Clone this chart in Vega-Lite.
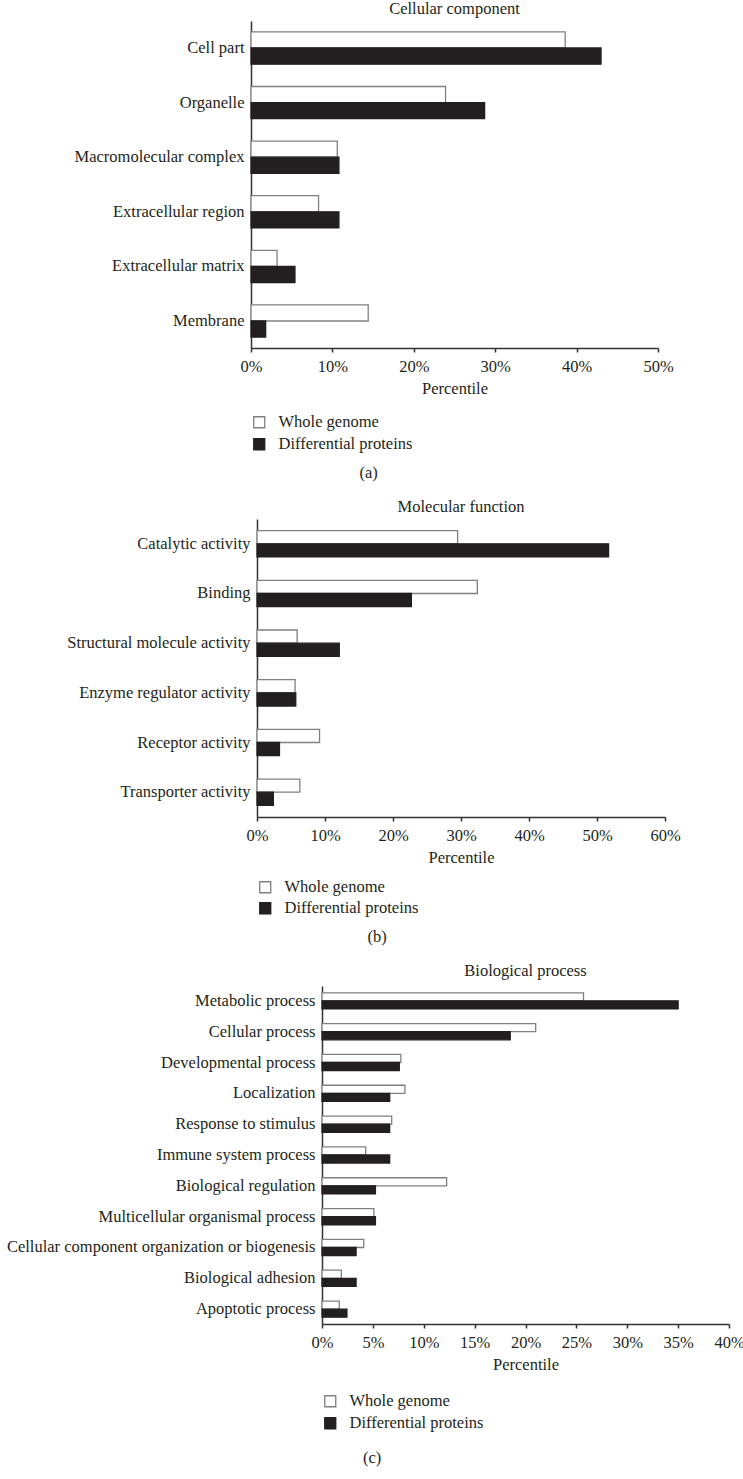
{
  "$schema": "https://vega.github.io/schema/vega-lite/v6.json",
  "padding": {"left": 0, "top": 0, "right": 4, "bottom": 0},
  "background": "white",
  "datasets": {
    "blank": [{"k": 1}],
    "cc": [
      {"cat": "Cell part", "series": "Whole genome", "value": 0.386},
      {"cat": "Cell part", "series": "Differential proteins", "value": 0.43},
      {"cat": "Organelle", "series": "Whole genome", "value": 0.239},
      {"cat": "Organelle", "series": "Differential proteins", "value": 0.287},
      {"cat": "Macromolecular complex", "series": "Whole genome", "value": 0.106},
      {"cat": "Macromolecular complex", "series": "Differential proteins", "value": 0.108},
      {"cat": "Extracellular region", "series": "Whole genome", "value": 0.083},
      {"cat": "Extracellular region", "series": "Differential proteins", "value": 0.108},
      {"cat": "Extracellular matrix", "series": "Whole genome", "value": 0.032},
      {"cat": "Extracellular matrix", "series": "Differential proteins", "value": 0.054},
      {"cat": "Membrane", "series": "Whole genome", "value": 0.144},
      {"cat": "Membrane", "series": "Differential proteins", "value": 0.018}
    ],
    "mf": [
      {"cat": "Catalytic activity", "series": "Whole genome", "value": 0.295},
      {"cat": "Catalytic activity", "series": "Differential proteins", "value": 0.517},
      {"cat": "Binding", "series": "Whole genome", "value": 0.324},
      {"cat": "Binding", "series": "Differential proteins", "value": 0.227},
      {"cat": "Structural molecule activity", "series": "Whole genome", "value": 0.059},
      {"cat": "Structural molecule activity", "series": "Differential proteins", "value": 0.121},
      {"cat": "Enzyme regulator activity", "series": "Whole genome", "value": 0.056},
      {"cat": "Enzyme regulator activity", "series": "Differential proteins", "value": 0.057},
      {"cat": "Receptor activity", "series": "Whole genome", "value": 0.092},
      {"cat": "Receptor activity", "series": "Differential proteins", "value": 0.033},
      {"cat": "Transporter activity", "series": "Whole genome", "value": 0.063},
      {"cat": "Transporter activity", "series": "Differential proteins", "value": 0.024}
    ],
    "bp": [
      {"cat": "Metabolic process", "series": "Whole genome", "value": 0.257},
      {"cat": "Metabolic process", "series": "Differential proteins", "value": 0.350},
      {"cat": "Cellular process", "series": "Whole genome", "value": 0.210},
      {"cat": "Cellular process", "series": "Differential proteins", "value": 0.185},
      {"cat": "Developmental process", "series": "Whole genome", "value": 0.0775},
      {"cat": "Developmental process", "series": "Differential proteins", "value": 0.076},
      {"cat": "Localization", "series": "Whole genome", "value": 0.0815},
      {"cat": "Localization", "series": "Differential proteins", "value": 0.0665},
      {"cat": "Response to stimulus", "series": "Whole genome", "value": 0.0685},
      {"cat": "Response to stimulus", "series": "Differential proteins", "value": 0.0665},
      {"cat": "Immune system process", "series": "Whole genome", "value": 0.043},
      {"cat": "Immune system process", "series": "Differential proteins", "value": 0.0665},
      {"cat": "Biological regulation", "series": "Whole genome", "value": 0.1225},
      {"cat": "Biological regulation", "series": "Differential proteins", "value": 0.0525},
      {"cat": "Multicellular organismal process", "series": "Whole genome", "value": 0.051},
      {"cat": "Multicellular organismal process", "series": "Differential proteins", "value": 0.0525},
      {"cat": "Cellular component organization or biogenesis", "series": "Whole genome", "value": 0.041},
      {"cat": "Cellular component organization or biogenesis", "series": "Differential proteins", "value": 0.0335},
      {"cat": "Biological adhesion", "series": "Whole genome", "value": 0.019},
      {"cat": "Biological adhesion", "series": "Differential proteins", "value": 0.0335},
      {"cat": "Apoptotic process", "series": "Whole genome", "value": 0.017},
      {"cat": "Apoptotic process", "series": "Differential proteins", "value": 0.0245}
    ]
  },
  "spacing": 16,
  "vconcat": [
    {
      "title": {"text": "(a)", "orient": "bottom", "anchor": "middle", "dx": 32, "offset": 12},
      "spacing": 0,
      "resolve": {"scale": {"fill": "independent", "stroke": "independent"}, "legend": {"fill": "independent", "stroke": "independent"}},
      "hconcat": [
        {"width": 1, "height": 1, "data": {"name": "blank"}, "mark": {"type": "text"}, "encoding": {"text": {"value": ""}}},
        {
          "width": 407,
          "height": 327,
          "title": {"text": "Cellular component"},
          "data": {"name": "cc"},
          "mark": {"type": "bar", "strokeWidth": 1.3},
          "encoding": {
            "y": {"field": "cat", "type": "nominal", "sort": null,
                  "scale": {"paddingInner": 0.41, "paddingOuter": 0.2},
                  "axis": {"title": null, "ticks": false, "labelPadding": 7, "labelLimit": 400, "minExtent": 250, "maxExtent": 250}},
            "yOffset": {"field": "series", "type": "nominal", "sort": ["Whole genome", "Differential proteins"]},
            "x": {"field": "value", "type": "quantitative",
                  "scale": {"domain": [0, 0.5]},
                  "axis": {"title": "Percentile", "format": ".0%", "values": [0, 0.1, 0.2, 0.3, 0.4, 0.5]}},
            "fill": {"field": "series", "type": "nominal", "sort": ["Whole genome", "Differential proteins"],
                     "scale": {"domain": ["Whole genome", "Differential proteins"], "range": ["#ffffff", "#231f20"]},
                     "legend": {"title": null, "orient": "bottom", "direction": "vertical"}},
            "stroke": {"field": "series", "type": "nominal", "sort": ["Whole genome", "Differential proteins"],
                       "scale": {"domain": ["Whole genome", "Differential proteins"], "range": ["#808080", "#231f20"]},
                       "legend": {"title": null, "orient": "bottom", "direction": "vertical"}}
          }
        }
      ]
    },
    {
      "title": {"text": "(b)", "orient": "bottom", "anchor": "middle", "dx": 37, "offset": 12},
      "spacing": 0,
      "resolve": {"scale": {"fill": "independent", "stroke": "independent"}, "legend": {"fill": "independent", "stroke": "independent"}},
      "hconcat": [
        {"width": 1, "height": 1, "data": {"name": "blank"}, "mark": {"type": "text"}, "encoding": {"text": {"value": ""}}},
        {
          "width": 408,
          "height": 298,
          "title": {"text": "Molecular function"},
          "data": {"name": "mf"},
          "mark": {"type": "bar", "strokeWidth": 1.3},
          "encoding": {
            "y": {"field": "cat", "type": "nominal", "sort": null,
                  "scale": {"paddingInner": 0.47, "paddingOuter": 0.234},
                  "axis": {"title": null, "ticks": false, "labelPadding": 7, "labelLimit": 400, "minExtent": 256, "maxExtent": 256}},
            "yOffset": {"field": "series", "type": "nominal", "sort": ["Whole genome", "Differential proteins"]},
            "x": {"field": "value", "type": "quantitative",
                  "scale": {"domain": [0, 0.6]},
                  "axis": {"title": "Percentile", "format": ".0%", "values": [0, 0.1, 0.2, 0.3, 0.4, 0.5, 0.6]}},
            "fill": {"field": "series", "type": "nominal", "sort": ["Whole genome", "Differential proteins"],
                     "scale": {"domain": ["Whole genome", "Differential proteins"], "range": ["#ffffff", "#231f20"]},
                     "legend": {"title": null, "orient": "bottom", "direction": "vertical", "offset": 13, "rowPadding": 4}},
            "stroke": {"field": "series", "type": "nominal", "sort": ["Whole genome", "Differential proteins"],
                       "scale": {"domain": ["Whole genome", "Differential proteins"], "range": ["#808080", "#231f20"]},
                       "legend": {"title": null, "orient": "bottom", "direction": "vertical", "offset": 13, "rowPadding": 4}}
          }
        }
      ]
    },
    {
      "title": {"text": "(c)", "orient": "bottom", "anchor": "middle", "dx": 0, "offset": 18},
      "spacing": 0,
      "resolve": {"scale": {"fill": "independent", "stroke": "independent"}, "legend": {"fill": "independent", "stroke": "independent"}},
      "hconcat": [
        {"width": 1, "height": 1, "data": {"name": "blank"}, "mark": {"type": "text"}, "encoding": {"text": {"value": ""}}},
        {
          "width": 407,
          "height": 338,
          "title": {"text": "Biological process", "offset": 7},
          "data": {"name": "bp"},
          "mark": {"type": "bar", "strokeWidth": 1.3},
          "encoding": {
            "y": {"field": "cat", "type": "nominal", "sort": null,
                  "scale": {"paddingInner": 0.475, "paddingOuter": 0.22},
                  "axis": {"title": null, "ticks": false, "labelPadding": 7, "labelLimit": 400, "minExtent": 321, "maxExtent": 321}},
            "yOffset": {"field": "series", "type": "nominal", "sort": ["Whole genome", "Differential proteins"]},
            "x": {"field": "value", "type": "quantitative",
                  "scale": {"domain": [0, 0.4]},
                  "axis": {"title": "Percentile", "format": ".0%", "values": [0, 0.05, 0.1, 0.15, 0.2, 0.25, 0.3, 0.35, 0.4]}},
            "fill": {"field": "series", "type": "nominal", "sort": ["Whole genome", "Differential proteins"],
                     "scale": {"domain": ["Whole genome", "Differential proteins"], "range": ["#ffffff", "#231f20"]},
                     "legend": {"title": null, "orient": "bottom", "direction": "vertical", "offset": 20}},
            "stroke": {"field": "series", "type": "nominal", "sort": ["Whole genome", "Differential proteins"],
                       "scale": {"domain": ["Whole genome", "Differential proteins"], "range": ["#808080", "#231f20"]},
                       "legend": {"title": null, "orient": "bottom", "direction": "vertical", "offset": 20}}
          }
        }
      ]
    }
  ],
  "resolve": {"scale": {"fill": "independent", "stroke": "independent", "x": "independent", "y": "independent", "yOffset": "independent"}, "legend": {"fill": "independent", "stroke": "independent"}},
  "config": {
    "font": "Liberation Serif",
    "view": {"stroke": null},
    "title": {"fontSize": 16.5, "fontWeight": "normal", "color": "#231f20", "offset": 4},
    "axis": {
      "grid": false,
      "labelFontSize": 16.5,
      "titleFontSize": 16.5,
      "titleFontWeight": "normal",
      "labelColor": "#231f20",
      "titleColor": "#231f20",
      "domainColor": "#333333",
      "domainWidth": 1.5,
      "tickColor": "#333333",
      "tickWidth": 1.5,
      "tickSize": 4,
      "labelPadding": 6,
      "titlePadding": 6,
      "labelFlush": false
    },
    "legend": {
      "symbolType": "square",
      "symbolSize": 121,
      "symbolStrokeWidth": 1.3,
      "labelFontSize": 16.5,
      "labelColor": "#231f20",
      "labelOffset": 11,
      "rowPadding": 5,
      "offset": 17
    }
  }
}
